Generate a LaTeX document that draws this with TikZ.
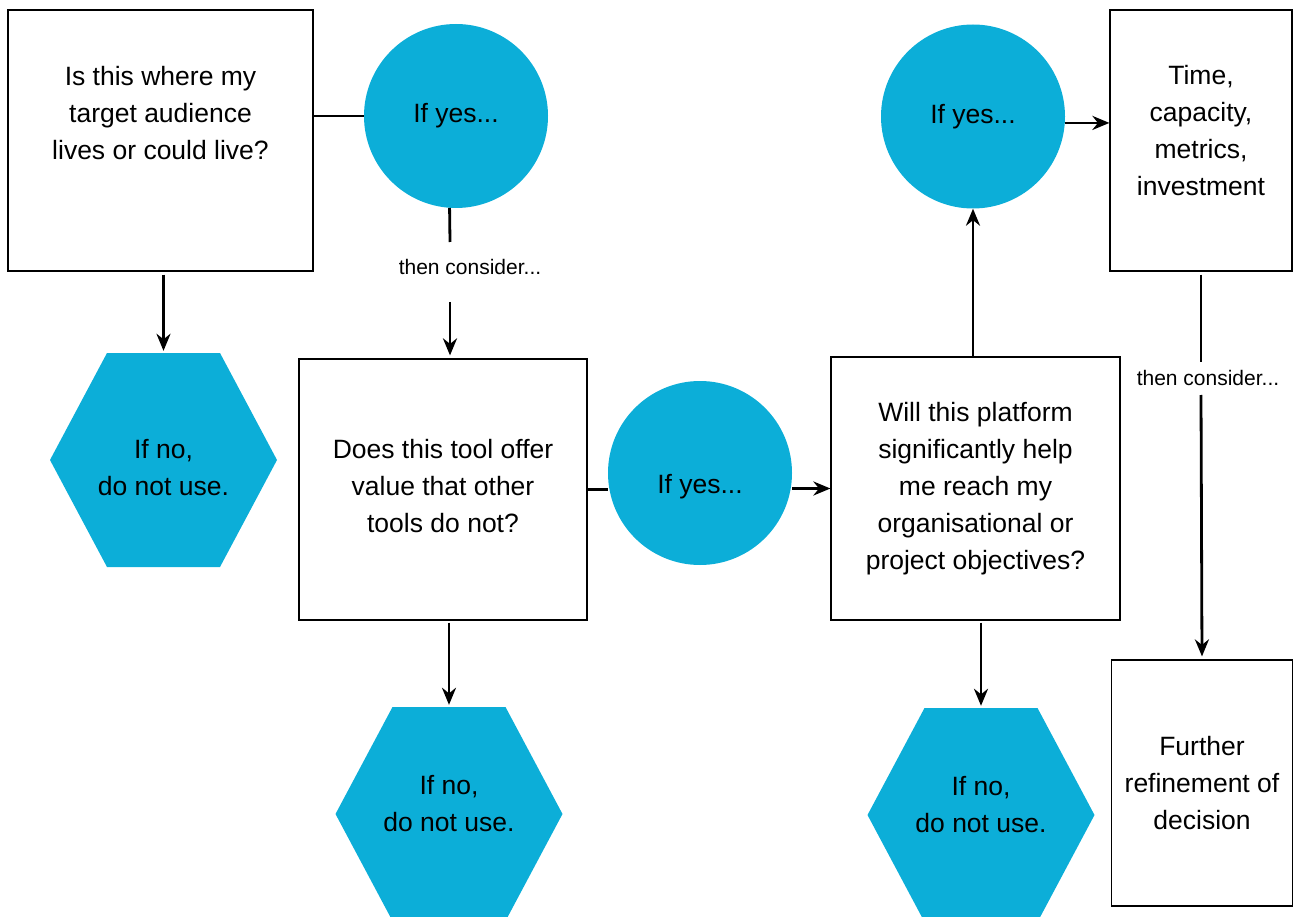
\documentclass[tikz,border=0pt]{standalone}
\usepackage{fontspec}
\setmainfont{Liberation Sans}
\usetikzlibrary{arrows.meta, positioning}

\definecolor{skyblue}{RGB}{12,174,216}

\tikzset{
  boxtext/.style={align=center, font=\fontsize{26.5}{37}\selectfont},
  qbox/.style={draw, line width=1.2pt, fill=white, boxtext},
  yesdot/.style={circle, fill=skyblue, minimum size=184pt, inner sep=0pt, boxtext},
  nohex/.style={minimum width=227pt, minimum height=214pt, boxtext,
    path picture={\fill[skyblue] (path picture bounding box.west)
      -- ([xshift=57pt]path picture bounding box.north west)
      -- ([xshift=-57pt]path picture bounding box.north east)
      -- (path picture bounding box.east)
      -- ([xshift=-57pt]path picture bounding box.south east)
      -- ([xshift=57pt]path picture bounding box.south west) -- cycle;}},
  link/.style={line width=2.8pt},
  arr/.style={link, -{Stealth[length=17pt, width=14pt]}},
  note/.style={font=\fontsize{21}{25}\selectfont}
}

\begin{document}
\begin{tikzpicture}[x=1pt, y=-1pt]
    \useasboundingbox (0,0) rectangle (1296,917);

    % Questions
    \node[qbox, minimum width=305pt, minimum height=261pt,
        label={[boxtext, yshift=27pt]center:Is this where my\\target audience\\lives or could live?}] (q1) at (160.5,140.5) {};
    \node[qbox, minimum width=288pt, minimum height=261pt,
        label={[boxtext, yshift=3pt]center:Does this tool offer\\value that other\\tools do not?}] (q2) at (443,489.5) {};
    \node[qbox, minimum width=289pt, minimum height=263pt] (q3) at (975.5,488.5)
        {Will this platform\\significantly help\\me reach my\\organisational or\\project objectives?};
    \node[qbox, minimum width=182pt, minimum height=261pt,
        label={[boxtext, yshift=10pt]center:Time,\\capacity,\\metrics,\\investment}] (q4) at (1201,140.5) {};
    \node[qbox, minimum width=181pt, minimum height=246pt] (q5) at (1202,783)
        {Further\\refinement of\\decision};

    % If yes...
    \node[yesdot] (c1) at (456,116) {If yes...};
    \node[yesdot, label={[boxtext, yshift=-14pt]center:If yes...}] (c2) at (700,473) {};
    \node[yesdot] (c3) at (973,116.5) {If yes...};

    % If no...
    \node[nohex, label={[boxtext, yshift=-8pt]center:If no,\\do not use.}] (no1) at (163.5,460) {};
    \node[nohex, label={[boxtext, yshift=10pt]center:If no,\\do not use.}] (no2) at (449,814) {};
    \node[nohex, label={[boxtext, yshift=10pt]center:If no,\\do not use.}] (no3) at (981,815) {};

    % then consider...
    \node[note] (then1) at (470,267) {then consider...};
    \node[note] (then2) at (1208,378) {then consider...};
    \coordinate (k1top) at (450,242);
    \coordinate (k1bot) at (450,302);
    \coordinate (k2top) at (1201,362);
    \coordinate (k2bot) at (1201,395);

    % Connectors
    \draw[link] (q1.east |- c1.west) -- (c1.west);
    \draw[arr, shorten <=3pt, shorten >=2pt] (q1.south -| no1.north) -- (no1.north);
    \draw[link] (c1.-94) -- (k1top);
    \draw[arr, shorten >=3pt] (k1bot) -- (k1bot |- q2.north);
    \draw[link] (q2.east) -- (c2.west |- q2.east);
    \draw[arr] (c2.east |- q3.west) -- (q3.west);
    \draw[arr, shorten <=2pt, shorten >=2pt] (q2.south -| no2.north) -- (no2.north);
    \draw[arr, shorten <=2pt, shorten >=2pt] (q3.south -| no3.north) -- (no3.north);
    \draw[arr] (q3.north -| c3.south) -- (c3.south);
    \draw[arr] (c3.-4) -- (q4.west |- c3.-4);
    \draw[link] (q4.south) ++(0,3) -- (k2top);
    \draw[arr, shorten >=3pt] (k2bot) -- (q5.north);
\end{tikzpicture}
\end{document}
